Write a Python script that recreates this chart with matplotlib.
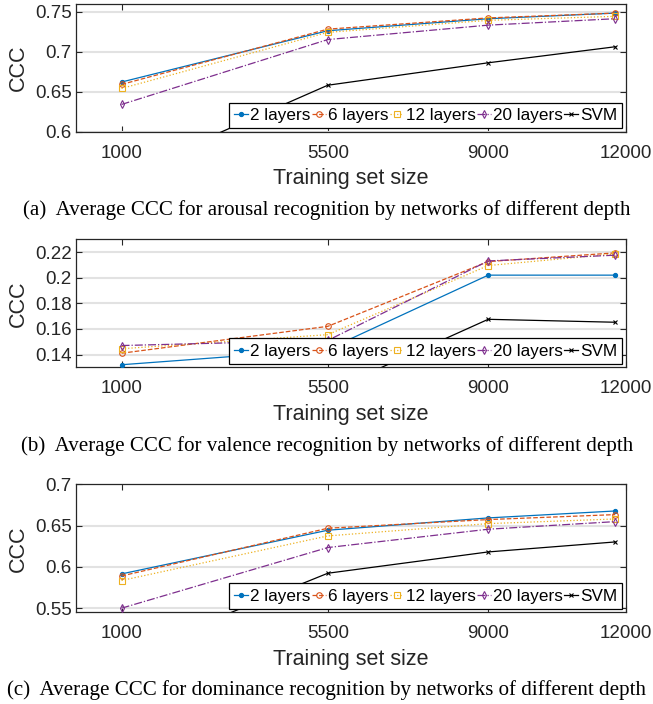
import matplotlib
matplotlib.use("Agg")
import matplotlib.pyplot as plt

# ---- data ----
train_sizes = [1000, 5500, 9000, 11770]
xticks = [1000, 5500, 9000, 12000]
series_names = ["2 layers", "6 layers", "12 layers", "20 layers", "SVM"]

arousal_2 = [0.662, 0.726, 0.741, 0.748]
arousal_6 = [0.659, 0.728, 0.742, 0.748]
arousal_12 = [0.654, 0.724, 0.739, 0.744]
arousal_20 = [0.634, 0.715, 0.733, 0.741]
arousal_svm = [0.545, 0.658, 0.686, 0.706]

valence_2 = [0.132, 0.144, 0.202, 0.202]
valence_6 = [0.141, 0.162, 0.2126, 0.2194]
valence_12 = [0.1445, 0.1555, 0.2095, 0.2186]
valence_20 = [0.147, 0.151, 0.2131, 0.2176]
valence_svm = [0.090, 0.111, 0.1675, 0.1652]

dominance_2 = [0.5915, 0.6444, 0.6593, 0.6677]
dominance_6 = [0.589, 0.6468, 0.6573, 0.6633]
dominance_12 = [0.5835, 0.6375, 0.6524, 0.658]
dominance_20 = [0.550, 0.6234, 0.6456, 0.6548]
dominance_svm = [0.491, 0.5923, 0.6181, 0.6302]

captions = [
    "(a)  Average CCC for arousal recognition by networks of different depth",
    "(b)  Average CCC for valence recognition by networks of different depth",
    "(c)  Average CCC for dominance recognition by networks of different depth",
]
ylims = [(0.6, 0.76), (0.13, 0.23), (0.545, 0.70)]
yticks = [[0.6, 0.65, 0.7, 0.75],
          [0.14, 0.16, 0.18, 0.2, 0.22],
          [0.55, 0.6, 0.65, 0.7]]
ytick_labels = [["0.6", "0.65", "0.7", "0.75"],
                ["0.14", "0.16", "0.18", "0.2", "0.22"],
                ["0.55", "0.6", "0.65", "0.7"]]
panels = [
    [arousal_2, arousal_6, arousal_12, arousal_20, arousal_svm],
    [valence_2, valence_6, valence_12, valence_20, valence_svm],
    [dominance_2, dominance_6, dominance_12, dominance_20, dominance_svm],
]

# ---- style ----
colors = ["#0072BD", "#D95319", "#EDB120", "#7E2F8E", "#000000"]
linestyles = ["-", "--", ":", "-.", "-"]
markers = [".", "o", "s", "d", "x"]
msizes = [6, 4, 4, 4, 3.5]
fills = ["full", "none", "none", "none", "full"]

plt.rcParams["font.family"] = ["Liberation Sans", "DejaVu Sans"]
dark = "#262626"

fig = plt.figure(figsize=(6.53, 7.04), dpi=100)
W, H = 653.0, 704.0
left_px, right_px = 75.7, 625.7
axes_px = [(3.5, 131.7), (239.3, 367.3), (484.3, 612.3)]
caption_y = [210, 446, 690]

for i in range(3):
    top, bot = axes_px[i]
    ax = fig.add_axes([left_px / W, 1 - bot / H, (right_px - left_px) / W, (bot - top) / H])
    lines = []
    for j, vals in enumerate(panels[i]):
        ln, = ax.plot(train_sizes, vals, color=colors[j], linestyle=linestyles[j],
                      marker=markers[j], markersize=msizes[j], fillstyle=fills[j],
                      markeredgewidth=0.8, linewidth=0.9, label=series_names[j],
                      clip_on=True, zorder=3)
        lines.append(ln)
    ax.set_xlim(0, 12000)
    ax.set_ylim(*ylims[i])
    ax.set_xticks(xticks)
    ax.set_xticklabels([str(v) for v in xticks])
    ax.set_yticks(yticks[i])
    ax.set_yticklabels(ytick_labels[i])
    ax.yaxis.grid(True, color="#e2e2e2", linewidth=1.5, zorder=0)
    ax.set_axisbelow(True)
    ax.tick_params(direction="in", length=4, width=0.8, colors=dark,
                   labelsize=13.5, top=True, right=True)
    ax.tick_params(axis="x", pad=9.5)
    ax.tick_params(axis="y", pad=3)
    for s in ax.spines.values():
        s.set_color(dark)
        s.set_linewidth(0.9)
    ax.set_xlabel("Training set size", fontsize=15.5, color=dark, labelpad=4.5)
    ax.set_ylabel("CCC", fontsize=15.5, color=dark, labelpad=4)
    leg = ax.legend(handles=lines, loc="lower right", bbox_to_anchor=(0.994, 0.028),
                    borderaxespad=0, ncol=5, fontsize=12.3, handlelength=0.8,
                    handletextpad=0.12, columnspacing=0.1, borderpad=0.3,
                    fancybox=False, framealpha=1, edgecolor="black", markerscale=1.0)
    leg.get_frame().set_linewidth(0.9)
    leg.set_zorder(5)
    fig.text(327 / W, 1 - caption_y[i] / H, captions[i], ha="center", va="center",
             fontsize=15.1, family="Liberation Serif", color="black")

fig.savefig("out.png", dpi=100)
